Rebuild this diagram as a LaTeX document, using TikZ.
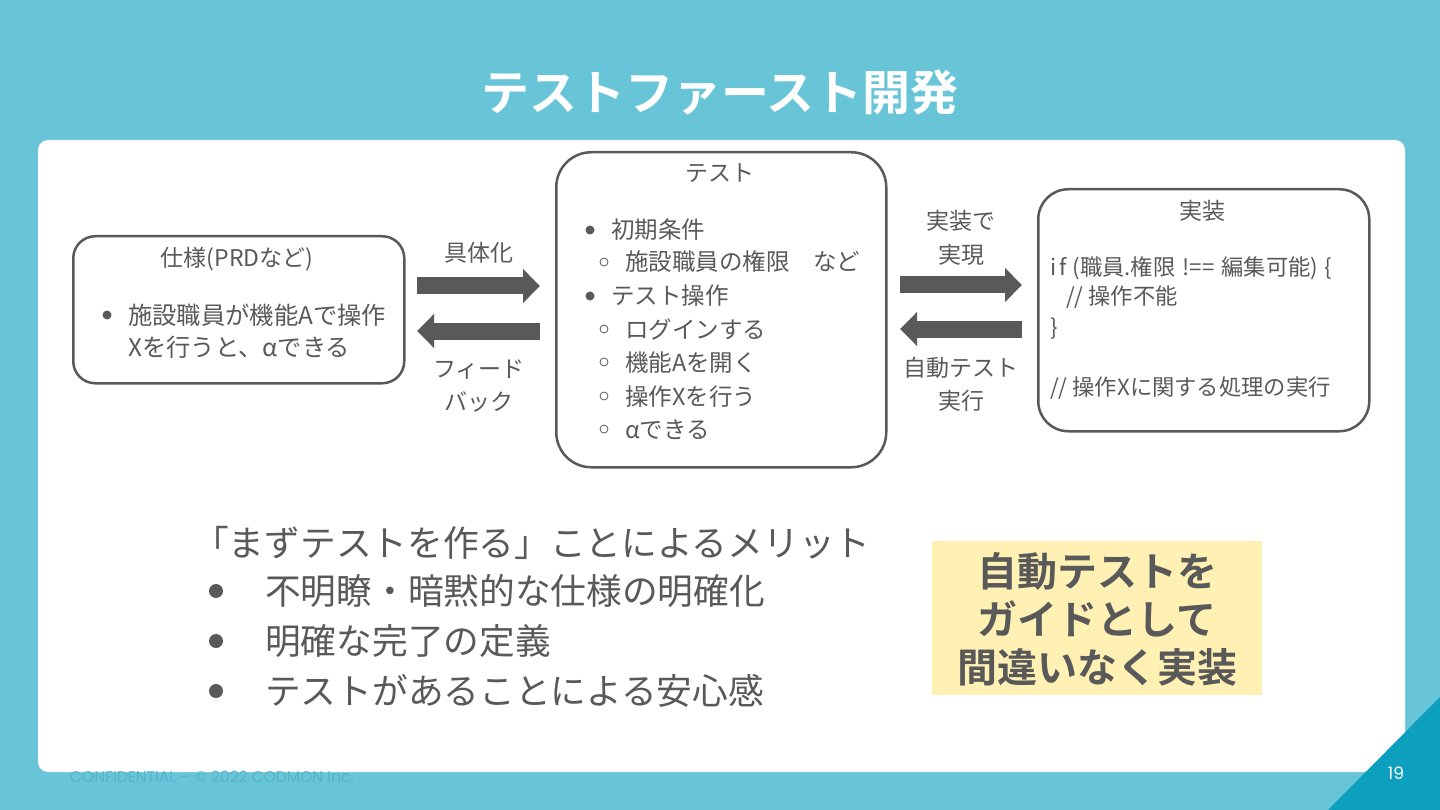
\documentclass[tikz,border=0pt]{standalone}
\usepackage{fontspec}
\setmainfont{Noto Sans CJK JP}[BoldFont={Noto Sans CJK JP Bold}]
\newfontfamily\latfont{Poppins}
\usetikzlibrary{arrows.meta}
\definecolor{bgteal}{RGB}{103,197,215}
\definecolor{darkteal}{RGB}{12,160,190}
\definecolor{txtgray}{RGB}{89,89,89}
\definecolor{hiyellow}{RGB}{255,240,180}
\definecolor{conftxt}{RGB}{86,180,202}
\tikzset{
  box/.style={draw=txtgray, line width=2.5pt, fill=white},
  txt/.style={inner sep=0pt, anchor=base west, text=txtgray, font=\fontsize{23.5}{28}\selectfont},
  ctxt/.style={inner sep=0pt, anchor=base, text=txtgray, font=\fontsize{23}{28}\selectfont},
  code/.style={txt, font=\fontsize{22.3}{26}\selectfont},
  big/.style={inner sep=0pt, anchor=base west, text=txtgray, font=\fontsize{35.7}{40}\selectfont},
  bul/.style={circle, fill=txtgray, inner sep=0pt, minimum size=9pt},
  hbul/.style={circle, draw=txtgray, line width=0.8pt, inner sep=0pt, minimum size=8pt},
  bigbul/.style={circle, fill=txtgray, inner sep=0pt, minimum size=14pt},
  blockarrow/.style={draw=txtgray, line width=17pt, -{Triangle[width=33pt,length=17pt]}},
}
\begin{document}
\begin{tikzpicture}[x=1pt,y=-1pt]
\useasboundingbox (0,0) rectangle (1440,810);
\fill[bgteal] (0,0) rectangle (1440,810);
\fill[white, rounded corners=10pt] (38,140) rectangle (1405,772);
\fill[darkteal] (1328,810) -- (1440,697) -- (1440,810) -- cycle;
\node[inner sep=0pt, anchor=base, text=white, font=\latfont\fontsize{17}{19}\selectfont] (pg) at (1396,779) {19};
\node[inner sep=0pt, anchor=base west, text=conftxt, font=\latfont\fontsize{15.5}{18}\selectfont] (conf) at (70,782) {CONFIDENTIAL – © 2022 CODMON Inc.};

% title
\node[inner sep=0pt, anchor=base, text=white, font=\bfseries\fontsize{48}{52}\selectfont] (title) at (720,111) {テストファースト開発};

% spec box
\node[box, rounded corners=22pt, minimum width=331pt, minimum height=147pt, anchor=north west] (spec) at (72,235) {};
\node[ctxt] (specT) at (237,267) {仕様(PRDなど)};
\node[bul] (sb1) at (107,315) {};
\node[txt, font=\fontsize{24.3}{28}\selectfont] (s1) at (128,324) {施設職員が機能Aで操作};
\node[txt, font=\fontsize{24.3}{28}\selectfont] (s2) at (128,356) {Xを行うと、αできる};

% test box
\node[box, rounded corners=35pt, minimum width=330pt, minimum height=315pt, anchor=north west] (test) at (555,151) {};
\node[ctxt] (testT) at (720,182) {テスト};
\node[bul] (tb1) at (590,230) {};
\node[txt] (t1) at (611,239) {初期条件};
\node[hbul] (tb2) at (604,262) {};
\node[txt] (t2) at (625,271) {施設職員の権限　など};
\node[bul] (tb3) at (590,296) {};
\node[txt] (t3) at (611,305) {テスト操作};
\node[hbul] (tb4) at (604,329) {};
\node[txt] (t4) at (625,338) {ログインする};
\node[hbul] (tb5) at (604,362) {};
\node[txt] (t5) at (625,371) {機能Aを開く};
\node[hbul] (tb6) at (604,396) {};
\node[txt] (t6) at (625,405) {操作Xを行う};
\node[hbul] (tb7) at (604,429) {};
\node[txt] (t7) at (625,438) {αできる};

% impl box
\node[box, rounded corners=30pt, minimum width=331pt, minimum height=242pt, anchor=north west] (impl) at (1037,188) {};
\node[ctxt] (implT) at (1202,220) {実装};
\node[code] (c1) at (1050,276) {i\hspace{3pt}f\hspace{6pt}(職員.権限\hspace{7pt}!==\hspace{7pt}編集可能)\hspace{6pt}\{};
\node[code] (c2) at (1066,305) {// 操作不能};
\node[code] (c3) at (1050,335) {\}};
\node[code] (c4) at (1050,395) {// 操作Xに関する処理の実行};

% arrows left
\coordinate (a1s) at (417,286);
\coordinate (a1e) at (540,286);
\coordinate (a2s) at (540,331);
\coordinate (a2e) at (417,331);
\draw[blockarrow] (a1s) -- (a1e);
\draw[blockarrow] (a2s) -- (a2e);
\node[ctxt] (l1) at (479,262) {具体化};
\node[ctxt] (l2) at (479,377) {フィード};
\node[ctxt] (l3) at (479,410) {バック};

% arrows right
\coordinate (a3s) at (900,285);
\coordinate (a3e) at (1022,285);
\coordinate (a4s) at (1022,329);
\coordinate (a4e) at (900,329);
\draw[blockarrow] (a3s) -- (a3e);
\draw[blockarrow] (a4s) -- (a4e);
\node[ctxt] (r1) at (961,230) {実装で};
\node[ctxt] (r2) at (961,264) {実現};
\node[ctxt] (r3) at (961,376) {自動テスト};
\node[ctxt] (r4) at (961,409) {実行};

% merits
\node[big] (m0) at (193,556) {「まずテストを作る」ことによるメリット};
\node[bigbul] (mb1) at (216,591) {};
\node[big] (m1) at (265,604) {不明瞭・暗黙的な仕様の明確化};
\node[bigbul] (mb2) at (216,641) {};
\node[big] (m2) at (265,654) {明確な完了の定義};
\node[bigbul] (mb3) at (216,691) {};
\node[big] (m3) at (265,704) {テストがあることによる安心感};

% yellow box
\node[fill=hiyellow, minimum width=330pt, minimum height=154pt, anchor=north west, inner sep=0pt] (yel) at (932,541) {};
\node[inner sep=0pt, anchor=base, text=txtgray, font=\bfseries\fontsize{40}{44}\selectfont] (y1) at (1097,586) {自動テストを};
\node[inner sep=0pt, anchor=base, text=txtgray, font=\bfseries\fontsize{40}{44}\selectfont] (y2) at (1097,634) {ガイドとして};
\node[inner sep=0pt, anchor=base, text=txtgray, font=\bfseries\fontsize{40}{44}\selectfont] (y3) at (1097,682) {間違いなく実装};
\end{tikzpicture}
\end{document}
